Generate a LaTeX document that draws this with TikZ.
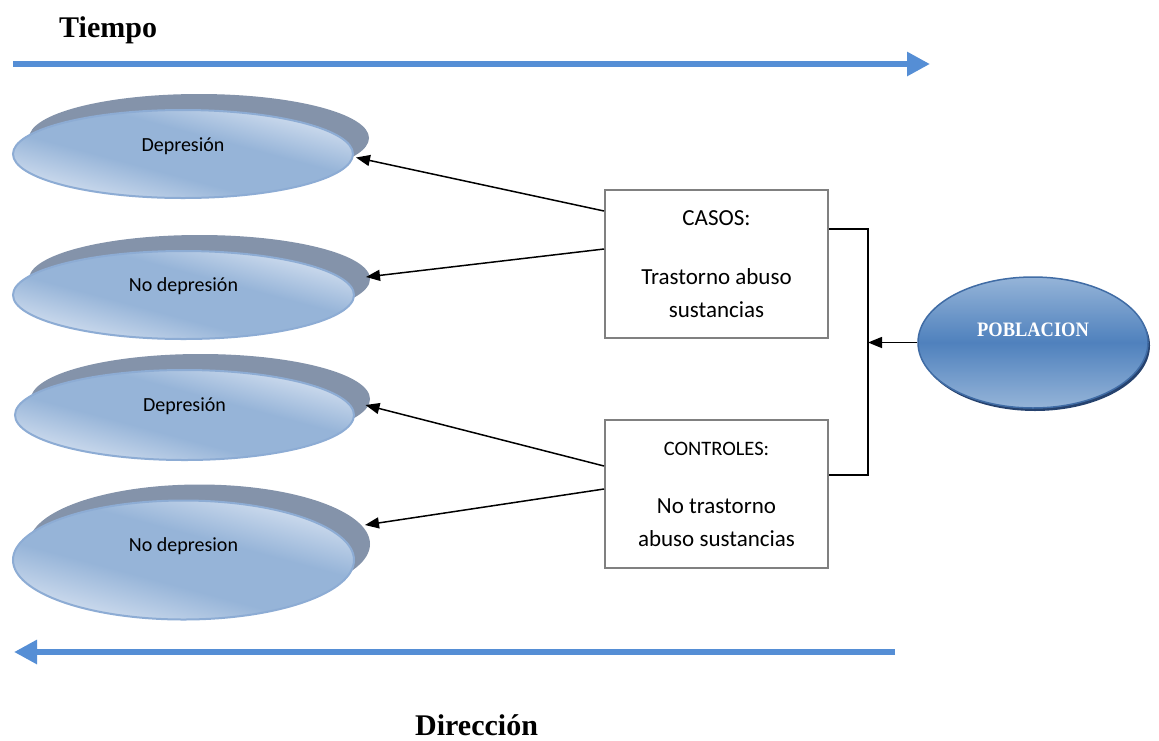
\documentclass[tikz,border=0pt]{standalone}
\usepackage{fontspec}
\setmainfont{Liberation Serif}
\newfontfamily\calib{Carlito}
\newfontfamily\pobfont[FakeStretch=0.9]{Liberation Serif}
\usetikzlibrary{shapes.geometric,shadows,arrows.meta}
\definecolor{tblue}{RGB}{85,142,213}
\definecolor{elight}{RGB}{212,224,240}
\definecolor{emid}{RGB}{150,180,216}
\definecolor{eborder}{RGB}{141,172,212}
\definecolor{eshadow}{RGB}{132,147,170}
\definecolor{pdark}{RGB}{79,129,189}
\definecolor{plight}{RGB}{149,180,216}
\definecolor{pborder}{RGB}{64,108,165}
\definecolor{pshadow}{RGB}{38,66,110}
\definecolor{boxgray}{RGB}{128,128,128}
\pgfdeclareverticalshading{ovalshade}{100bp}{color(0bp)=(elight); color(25bp)=(elight); color(42bp)=(emid); color(58bp)=(emid); color(75bp)=(elight); color(100bp)=(elight)}
\begin{document}
\begin{tikzpicture}[x=1pt,y=-1pt,
  oval/.style={ellipse, draw=eborder, line width=2pt, inner sep=0pt,
    shading=ovalshade, shading angle=-15,
    general shadow={shadow xshift=16pt, shadow yshift=16pt, fill=eshadow}},
  ovaltext/.style={font=\calib\fontsize{20}{24}\selectfont, inner sep=0pt},
  popul/.style={ellipse, draw=pborder, line width=1.5pt, inner sep=0pt,
    top color=plight, bottom color=plight, middle color=pdark,
    general shadow={shadow xshift=2pt, shadow yshift=-3pt, fill=pshadow}},
  groupbox/.style={rectangle, draw=boxgray, line width=2pt, fill=white,
    minimum width=223pt, minimum height=148pt, align=center, inner sep=0pt,
    font=\calib\fontsize{23}{33}\selectfont},
  conn/.style={draw=black, line width=1.5pt, -{Triangle[length=14pt,width=11pt]}},
  timearrow/.style={draw=tblue, line width=6pt, -{Triangle[length=23pt,width=23pt]}},
  heading/.style={font=\bfseries\fontsize{30}{36}\selectfont, inner sep=0pt, anchor=base west}
]
\useasboundingbox[fill=white] (0,0) rectangle (1159,740);

% time arrows
\coordinate (t0) at (13,64);
\coordinate (t1) at (930,64);
\draw[timearrow] (t0) -- (t1);
\coordinate (b0) at (895,652);
\coordinate (b1) at (14,652);
\draw[timearrow] (b0) -- (b1);

\node[heading] (tiempo) at (59,37) {Tiempo};
\node[heading] (direccion) at (415,735) {Dirección};

% outcome ellipses
\node[oval, minimum width=340pt, minimum height=88pt] (e1) at (183,154) {};
\node[oval, minimum width=341pt, minimum height=88pt] (e2) at (183.5,295) {};
\node[oval, minimum width=339pt, minimum height=90pt] (e3) at (184.5,415) {};
\node[oval, minimum width=341pt, minimum height=119pt] (e4) at (183.5,560) {};
\node[ovaltext] (e1t) at ([yshift=8pt]e1.center) {Depresión};
\node[ovaltext] (e2t) at ([yshift=8.5pt]e2.center) {No depresión};
\node[ovaltext] (e3t) at ([yshift=8.5pt]e3.center) {Depresión};
\node[ovaltext] (e4t) at ([yshift=14pt]e4.center) {No depresion};

% groups
\node[groupbox] (casos) at (716.5,264) {CASOS:\\[26pt]Trastorno abuso\\sustancias};
\node[groupbox] (controles) at (716.5,494) {{\fontsize{20.5}{32}\selectfont CONTROLES:}\\[25pt]No trastorno\\abuso sustancias};

% population
\node[popul, minimum width=230pt, minimum height=131pt] (pob) at (1033,342.5) {};
\node[font=\pobfont\bfseries\fontsize{20.5}{24}\selectfont, text=white, inner sep=0pt] (pobt) at ([yshift=12.5pt]pob.center) {POBLACION};

% connectors
\coordinate (bus) at (868,345);
\draw[line width=1.5pt] ([yshift=35pt]casos.east) -| (bus) |- ([yshift=19pt]controles.east);
\draw[conn] (pob.west) -- (bus |- pob.west);

\draw[conn] ([yshift=53pt]casos.west) -- ([xshift=2pt,yshift=-3.5pt]e1.east);
\draw[conn] ([yshift=15pt]casos.west) -- ([xshift=11pt,yshift=18pt]e2.east);
\draw[conn] ([yshift=28pt]controles.west) -- ([xshift=10.5pt,yshift=10pt]e3.east);
\draw[conn] ([yshift=5pt]controles.west) -- ([xshift=10pt,yshift=35pt]e4.east);
\end{tikzpicture}
\end{document}
